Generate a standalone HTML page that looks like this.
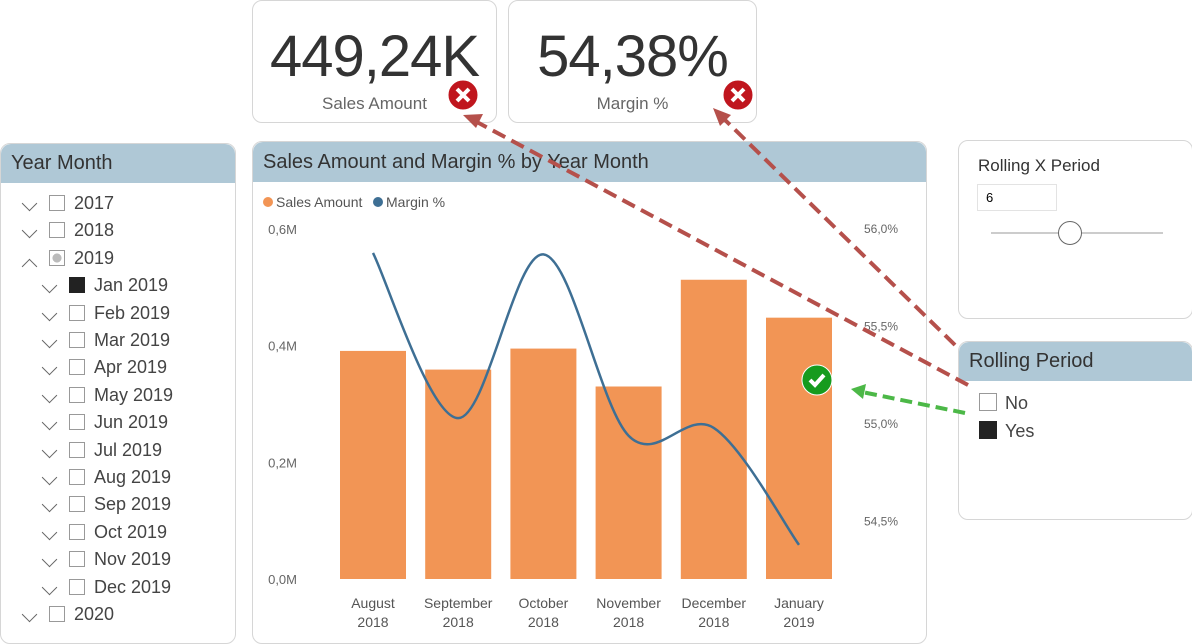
<!DOCTYPE html>
<html><head><meta charset="utf-8"><style>
body{margin:0;width:1192px;height:644px;background:#fff;font-family:"Liberation Sans","DejaVu Sans",sans-serif;position:relative;overflow:hidden}
.card{position:absolute;border:1px solid #d6d6d6;border-radius:10px;background:#fff}
.hdr{position:absolute;left:0;right:0;top:0;background:#afc8d6;border-radius:10px 10px 0 0;font-size:20px;color:#333;padding-left:10px;box-sizing:border-box}
.big{position:absolute;left:0;right:0;text-align:center;font-size:58px;color:#333;top:22px;letter-spacing:-1px}
.sub{position:absolute;left:0;right:0;text-align:center;font-size:17px;color:#666;top:93px}
.row{position:absolute;font-size:18px;color:#444;height:20px;line-height:20px}
.cb{position:absolute;width:16px;height:16px;border:1px solid #999;box-sizing:border-box;background:#fff}
.chev{position:absolute;width:10px;height:10px;border-right:1.5px solid #666;border-bottom:1.5px solid #666;transform:rotate(45deg)}
.chevu{position:absolute;width:10px;height:10px;border-left:1.5px solid #666;border-top:1.5px solid #666;transform:rotate(45deg)}
</style></head><body>
<div class="card" style="left:252px;top:0;width:243px;height:121px">
<div class="big">449,24K</div>
<div class="sub">Sales Amount</div></div>
<div class="card" style="left:508px;top:0;width:247px;height:121px">
<div class="big">54,38%</div>
<div class="sub">Margin %</div></div>

<div class="card" style="left:0;top:143px;width:234px;height:499px">
<div class="hdr" style="height:39px;line-height:39px">Year Month</div>
<div id="ym"></div></div>

<div class="card" style="left:252px;top:141px;width:673px;height:501px">
<div class="hdr" style="height:40px;line-height:40px">Sales Amount and Margin % by Year Month</div></div>

<div class="card" style="left:958px;top:140px;width:233px;height:177px">
<div style="position:absolute;left:19px;top:15px;font-size:17px;color:#333">Rolling X Period</div>
<div style="position:absolute;left:18px;top:43px;width:80px;height:27px;border:1px solid #e3e3e3;box-sizing:border-box;font-size:13px;line-height:25px;padding-left:8px">6</div>
<div style="position:absolute;left:32px;top:91px;width:172px;height:2px;background:#ccc"></div>
<div style="position:absolute;left:99px;top:80px;width:24px;height:24px;border:1.5px solid #666;border-radius:50%;background:#fff;box-sizing:border-box"></div></div>

<div class="card" style="left:958px;top:341px;width:233px;height:177px">
<div class="hdr" style="height:39px;line-height:39px">Rolling Period</div>
<div class="cb" style="left:20px;top:51px;width:18px;height:18px"></div>
<div class="row" style="left:46px;top:51px">No</div>
<div class="cb" style="left:20px;top:79px;width:18px;height:18px;background:#222;border-color:#222"></div>
<div class="row" style="left:46px;top:79px">Yes</div></div>

<svg id="ch" width="1192" height="644" style="position:absolute;left:0;top:0" font-family="Liberation Sans, sans-serif"></svg>
<script>
const items=[["2017",0,"d",0],["2018",0,"d",0],["2019",0,"u",2],["Jan 2019",1,"d",1],["Feb 2019",1,"d",0],["Mar 2019",1,"d",0],["Apr 2019",1,"d",0],["May 2019",1,"d",0],["Jun 2019",1,"d",0],["Jul 2019",1,"d",0],["Aug 2019",1,"d",0],["Sep 2019",1,"d",0],["Oct 2019",1,"d",0],["Nov 2019",1,"d",0],["Dec 2019",1,"d",0],["2020",0,"d",0]];
const ym=document.getElementById('ym');
items.forEach((it,i)=>{const y=59+i*27.4, off=it[1]?20:0;
const c=document.createElement('div');c.className=it[2]=='u'?'chevu':'chev';c.style.left=(23+off)+'px';c.style.top=(y+(it[2]=='u'?3:-5))+'px';

ym.appendChild(c);
const b=document.createElement('div');b.className='cb';b.style.left=(48+off)+'px';b.style.top=(y-8)+'px';
if(it[3]==1){b.style.background='#222';b.style.borderColor='#222';}
if(it[3]==2){b.style.background='radial-gradient(#bbb 45%,#fff 46%)';}

ym.appendChild(b);
const t=document.createElement('div');t.className='row';t.textContent=it[0];t.style.left=(73+off)+'px';t.style.top=(y-10)+'px';

ym.appendChild(t);});

const categories=[["August","2018"],["September","2018"],["October","2018"],["November","2018"],["December","2018"],["January","2019"]];
const sales=[0.391,0.359,0.395,0.330,0.513,0.448];
const margin=[55.877,55.03,55.87,54.94,54.98,54.38];
const leftTicks=["0,0M","0,2M","0,4M","0,6M"];
const leftTickVals=[0,0.2,0.4,0.6];
const rightTicks=["54,5%","55,0%","55,5%","56,0%"];
const rightTickVals=[54.5,55.0,55.5,56.0];
const NS='http://www.w3.org/2000/svg',svg=document.getElementById('ch');
function el(t,a,n,i){const e=document.createElementNS(NS,t);for(const k in a)e.setAttribute(k,a[k]);svg.appendChild(e);return e;}
const yL=v=>579-v/0.6*350, yR=v=>229+(56-v)/0.5*97.5, xC=i=>373+i*85.2;
leftTicks.forEach((s,i)=>{const t=el('text',{x:297,y:yL(leftTickVals[i])+5,'text-anchor':'end','font-size':13,fill:'#666'},'left-tick');t.textContent=s;});
rightTicks.forEach((s,i)=>{const t=el('text',{x:864,y:yR(rightTickVals[i])+4,'font-size':12,fill:'#666'},'right-tick');t.textContent=s;});
sales.forEach((v,i)=>{el('rect',{x:xC(i)-33,y:yL(v),width:66,height:579-yL(v),fill:'#f29555'},'bar-'+i,'true');
const t=el('text',{x:xC(i),y:608,'text-anchor':'middle','font-size':14,fill:'#555'},'x-tick');t.innerHTML='<tspan x="'+xC(i)+'">'+categories[i][0]+'</tspan><tspan x="'+xC(i)+'" dy="19">'+categories[i][1]+'</tspan>';});
const P=margin.map((v,i)=>[xC(i),yR(v)]);let d='M'+P[0];
for(let i=0;i<P.length-1;i++){const p0=P[Math.max(0,i-1)],p1=P[i],p2=P[i+1],p3=P[Math.min(P.length-1,i+2)];
d+=' C'+(p1[0]+(p2[0]-p0[0])/6)+','+(p1[1]+(p2[1]-p0[1])/6)+' '+(p2[0]-(p3[0]-p1[0])/6)+','+(p2[1]-(p3[1]-p1[1])/6)+' '+p2;}
el('path',{d:d,fill:'none',stroke:'#3e6f94','stroke-width':2.5},'margin-line');
el('circle',{cx:268,cy:202,r:5,fill:'#f29555'},'legend-sales-dot');
let t=el('text',{x:276,y:207,'font-size':14,fill:'#555'},'legend-sales');t.textContent='Sales Amount';
el('circle',{cx:378,cy:202,r:5,fill:'#3e6f94'},'legend-margin-dot');
t=el('text',{x:386,y:207,'font-size':14,fill:'#555'},'legend-margin');t.textContent='Margin %';
el('line',{x1:968,y1:385,x2:475,y2:121,stroke:'#b5504b','stroke-width':4,'stroke-dasharray':'14,7'},'red-arrow-1');
el('polygon',{points:'463,115 483,114 476,128',fill:'#b5504b'},'red-arrowhead-1');
el('line',{x1:955,y1:345,x2:722,y2:117,stroke:'#b5504b','stroke-width':4,'stroke-dasharray':'14,7'},'red-arrow-2');
el('polygon',{points:'713,108 731,115 720,126',fill:'#b5504b'},'red-arrowhead-2');
el('line',{x1:965,y1:413,x2:862,y2:392,stroke:'#4cb847','stroke-width':4,'stroke-dasharray':'12,6'},'green-arrow');
el('polygon',{points:'851,389 866,384 863,399',fill:'#4cb847'},'green-arrowhead');
[[463,95,'x'],[738,95,'x'],[817,380,'v']].forEach(a=>{el('circle',{cx:a[0],cy:a[1],r:15,fill:a[2]=='x'?'#c0161e':'#169b1e',stroke:'#fff','stroke-width':1},'status-icon');
if(a[2]=='x')el('path',{d:`M${a[0]-6},${a[1]-6}L${a[0]+6},${a[1]+6}M${a[0]+6},${a[1]-6}L${a[0]-6},${a[1]+6}`,stroke:'#fff','stroke-width':4},'x-mark');
else el('path',{d:`M${a[0]-7},${a[1]}L${a[0]-2},${a[1]+5}L${a[0]+7},${a[1]-5}`,stroke:'#fff','stroke-width':4,fill:'none'},'check-mark');});
</script></body></html>
